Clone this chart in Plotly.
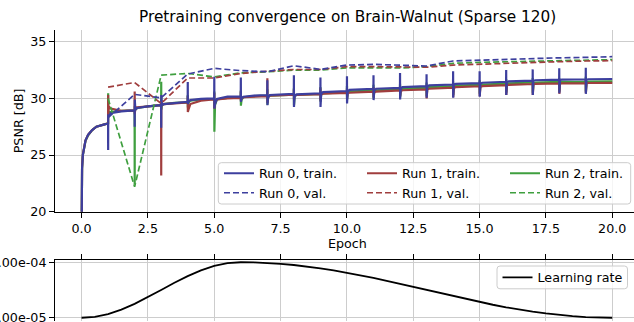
import plotly.graph_objects as go

# ---------------------------------------------------------------- data
# Dense sampling of the first epoch (shared by all runs)
first_epoch = [0.0, 0.005, 0.02, 0.05, 0.09, 0.15, 0.25, 0.4, 0.56, 0.75, 0.99]
run0_first = [17.0, 22.0, 23.8, 25.0, 25.6, 26.3, 26.8, 27.2, 27.5, 27.65, 27.8]
run1_first = [17.0, 22.1, 23.9, 25.05, 25.65, 26.3, 26.8, 27.2, 27.5, 27.65, 27.8]
run2_first = [17.0, 22.0, 23.8, 25.0, 25.6, 26.25, 26.75, 27.2, 27.5, 27.65, 27.8]

# Sample positions inside every later epoch (relative to its start):
# before restart, restart spike (two extremes), settling, mid, end
epoch_offsets = [0.0, 0.003, 0.006, 0.03, 0.1, 0.5, 0.97]
later_epochs = list(range(1, 20))
final_epoch = 20.0

run0_train_rows = [
    [27.8, 25.45, 28.6, 28.4, 28.7, 28.85, 28.95],
    [28.95, 27.5, 29.9, 29.0, 29.15, 29.3, 29.4],
    [29.4, 27.4, 30.3, 29.4, 29.5, 29.6, 29.7],
    [29.7, 31.45, 29.5, 29.7, 29.85, 29.95, 30.0],
    [30.0, 31.9, 29.1, 29.5, 29.95, 30.15, 30.15],
    [30.15, 31.85, 29.7, 30.0, 30.15, 30.25, 30.3],
    [30.3, 31.6, 29.4, 30.1, 30.3, 30.36, 30.4],
    [30.4, 32.05, 29.25, 30.2, 30.35, 30.4, 30.45],
    [30.45, 31.85, 29.25, 30.4, 30.55, 30.6, 30.65],
    [30.65, 31.95, 29.55, 30.6, 30.75, 30.8, 30.85],
    [30.85, 32.05, 29.85, 30.7, 30.85, 30.88, 30.92],
    [30.92, 32.25, 29.9, 30.9, 31.0, 31.03, 31.08],
    [31.08, 32.12, 30.06, 31.05, 31.15, 31.18, 31.22],
    [31.22, 32.4, 30.06, 31.2, 31.28, 31.3, 31.35],
    [31.35, 32.4, 30.15, 31.3, 31.38, 31.41, 31.47],
    [31.47, 32.5, 30.3, 31.45, 31.5, 31.53, 31.57],
    [31.57, 32.56, 30.3, 31.55, 31.6, 31.62, 31.65],
    [31.65, 32.65, 30.45, 31.62, 31.66, 31.68, 31.69],
    [31.69, 32.7, 30.4, 31.66, 31.69, 31.7, 31.71],
]
run0_final = 31.71

run1_train_rows = [
    [27.8, 30.3, 28.5, 29.3, 29.1, 28.9, 28.95],
    [28.95, 30.6, 28.6, 29.2, 29.2, 29.3, 29.4],
    [29.4, 23.2, 29.85, 29.4, 29.5, 29.55, 29.65],
    [29.65, 30.2, 28.8, 29.0, 29.5, 29.8, 29.9],
    [29.9, 30.5, 29.1, 29.6, 29.9, 30.0, 30.05],
    [30.05, 30.6, 29.8, 30.0, 30.1, 30.15, 30.2],
    [30.2, 31.77, 29.6, 30.1, 30.25, 30.3, 30.32],
    [30.32, 30.8, 29.9, 30.25, 30.3, 30.35, 30.38],
    [30.38, 30.9, 29.8, 30.35, 30.42, 30.45, 30.48],
    [30.48, 30.9, 30.0, 30.45, 30.5, 30.55, 30.6],
    [30.6, 31.0, 30.1, 30.55, 30.6, 30.65, 30.7],
    [30.7, 31.1, 30.2, 30.65, 30.72, 30.75, 30.8],
    [30.8, 31.2, 30.0, 30.8, 30.85, 30.88, 30.95],
    [30.95, 31.3, 30.1, 30.9, 31.0, 31.03, 31.07],
    [31.07, 31.4, 30.2, 31.0, 31.08, 31.12, 31.17],
    [31.17, 31.5, 30.3, 31.15, 31.2, 31.24, 31.27],
    [31.27, 31.6, 30.3, 31.25, 31.28, 31.3, 31.32],
    [31.32, 31.6, 30.4, 31.3, 31.33, 31.34, 31.35],
    [31.35, 31.7, 30.45, 31.33, 31.36, 31.36, 31.37],
]
run1_final = 31.37

run2_train_rows = [
    [27.8, 30.45, 28.3, 28.8, 28.8, 28.9, 28.95],
    [28.95, 22.4, 29.3, 29.0, 29.15, 29.3, 29.4],
    [29.4, 31.47, 29.0, 29.4, 29.5, 29.6, 29.65],
    [29.65, 30.3, 29.2, 29.6, 29.8, 29.9, 29.95],
    [29.95, 30.6, 27.05, 29.4, 29.9, 30.05, 30.1],
    [30.1, 30.7, 29.35, 29.9, 30.1, 30.2, 30.25],
    [30.25, 30.8, 29.45, 30.1, 30.25, 30.3, 30.33],
    [30.33, 30.9, 29.4, 30.2, 30.3, 30.35, 30.4],
    [30.4, 31.0, 29.7, 30.35, 30.45, 30.5, 30.55],
    [30.55, 31.1, 29.9, 30.5, 30.6, 30.65, 30.7],
    [30.7, 31.2, 30.0, 30.6, 30.7, 30.75, 30.8],
    [30.8, 31.3, 30.1, 30.75, 30.85, 30.9, 30.95],
    [30.95, 31.4, 30.2, 30.9, 31.0, 31.03, 31.08],
    [31.08, 31.5, 30.3, 31.05, 31.12, 31.15, 31.2],
    [31.2, 31.6, 30.4, 31.15, 31.22, 31.25, 31.3],
    [31.3, 31.7, 30.5, 31.25, 31.32, 31.35, 31.4],
    [31.4, 31.8, 30.5, 31.35, 31.4, 31.43, 31.45],
    [31.45, 31.8, 30.6, 31.42, 31.45, 31.47, 31.48],
    [31.48, 31.9, 30.6, 31.45, 31.48, 31.5, 31.5],
]
run2_final = 31.5

# Validation PSNR at the end of each epoch
val_epochs = [1, 2, 3, 4, 5, 6, 7, 8, 9, 10, 11, 12, 13, 14, 15, 16, 17, 18, 19, 20]
run0_val = [28.3, 30.35, 30.05, 32.15, 32.65, 32.45, 32.35, 32.88, 32.56, 32.94,
            33.0, 32.9, 32.86, 33.3, 33.38, 33.45, 33.52, 33.58, 33.62, 33.68]
run1_val = [31.0, 31.4, 29.55, 31.8, 31.8, 32.2, 32.4, 32.55, 32.55, 32.8,
            32.8, 32.8, 32.75, 32.94, 33.03, 33.09, 33.18, 33.24, 33.3, 33.33]
run2_val = [30.0, 22.2, 32.05, 32.2, 31.9, 32.25, 32.35, 32.5, 32.5, 32.7,
            32.7, 32.68, 32.8, 33.09, 33.18, 33.24, 33.3, 33.35, 33.4, 33.42]

# Learning-rate schedule (warm-up, then cosine decay)
lr_epochs = [0.0, 0.5, 1.0, 1.5, 2.0, 2.5, 3.0, 3.5, 4.0, 4.5, 5.0, 5.5, 6.0, 6.5,
             7.0, 7.5, 8.0, 8.5, 9.0, 9.5, 10.0, 10.5, 11.0, 11.5, 12.0, 12.5,
             13.0, 13.5, 14.0, 14.5, 15.0, 15.5, 16.0, 16.5, 17.0, 17.5, 18.0,
             18.5, 19.0, 19.5, 20.0]
lr_values = [1.0e-05, 1.153e-05, 1.603e-05, 2.318e-05, 3.25e-05, 4.335e-05, 5.5e-05,
             6.665e-05, 7.75e-05, 8.682e-05, 9.397e-05, 9.847e-05, 1.0e-04,
             9.972e-05, 9.887e-05, 9.747e-05, 9.554e-05, 9.31e-05, 9.018e-05,
             8.682e-05, 8.306e-05, 7.894e-05, 7.452e-05, 6.986e-05, 6.501e-05,
             6.004e-05, 5.5e-05, 4.996e-05, 4.499e-05, 4.014e-05, 3.548e-05,
             3.106e-05, 2.694e-05, 2.318e-05, 1.982e-05, 1.69e-05, 1.446e-05,
             1.253e-05, 1.113e-05, 1.028e-05, 1.0e-05]

epoch_tick_vals = [0.0, 2.5, 5.0, 7.5, 10.0, 12.5, 15.0, 17.5, 20.0]
psnr_tick_vals = [20, 25, 30, 35]
lr_tick_vals = [1e-05, 1e-04]
lr_tick_text = ["1.00e-05", "1.00e-04"]

run_names = ["Run 0", "Run 1", "Run 2"]
run_colors = ["#3d3f9e", "#a03e3e", "#3f9f3f"]

# ---------------------------------------------------------------- helpers
W, H = 634, 322
PLOT_L = 55.0
GRID = "#cdcdcd"
FONT = "DejaVu Sans"


def paper_x(px):
    return (px - PLOT_L) / (W - PLOT_L)


def paper_y(py):
    return 1 - py / H


def train_series(first_vals, rows, final_val):
    xs = list(first_epoch)
    ys = list(first_vals)
    for k, row in zip(later_epochs, rows):
        xs += [k + o for o in epoch_offsets]
        ys += row
    xs.append(final_epoch)
    ys.append(final_val)
    return xs, ys


def rounded_box(x0, y0, x1, y1, r=3.0):
    """Rounded rectangle path in paper coordinates from pixel corners."""
    X = paper_x
    Y = paper_y
    return (f"M{X(x0 + r)},{Y(y0)} L{X(x1 - r)},{Y(y0)} Q{X(x1)},{Y(y0)} {X(x1)},{Y(y0 + r)} "
            f"L{X(x1)},{Y(y1 - r)} Q{X(x1)},{Y(y1)} {X(x1 - r)},{Y(y1)} "
            f"L{X(x0 + r)},{Y(y1)} Q{X(x0)},{Y(y1)} {X(x0)},{Y(y1 - r)} "
            f"L{X(x0)},{Y(y0 + r)} Q{X(x0)},{Y(y0)} {X(x0 + r)},{Y(y0)} Z")


# ---------------------------------------------------------------- figure
fig = go.Figure()

train_data = [
    train_series(run0_first, run0_train_rows, run0_final),
    train_series(run1_first, run1_train_rows, run1_final),
    train_series(run2_first, run2_train_rows, run2_final),
]
val_data = [run0_val, run1_val, run2_val]
entry_widths = [98, 98, 80]

# training curves (blue drawn last so it sits on top)
for i in [2, 1, 0]:
    xs, ys = train_data[i]
    fig.add_trace(go.Scatter(
        x=xs, y=ys, mode="lines", name=f"{run_names[i]}, train.",
        line=dict(color=run_colors[i], width=2.2),
        legendgroup=f"run{i}", legendrank=2 * i + 1, legendwidth=entry_widths[i],
        xaxis="x", yaxis="y",
    ))

# validation curves
for i in [2, 1, 0]:
    fig.add_trace(go.Scatter(
        x=val_epochs, y=val_data[i], mode="lines", name=f"{run_names[i]}, val.",
        line=dict(color=run_colors[i], width=1.7, dash="6px,3px"),
        legendgroup=f"run{i}", legendrank=2 * i + 2, legendwidth=entry_widths[i],
        xaxis="x", yaxis="y",
    ))

fig.add_trace(go.Scatter(
    x=lr_epochs, y=lr_values, mode="lines", name="Learning rate",
    line=dict(color="black", width=1.8), legend="legend2",
    xaxis="x2", yaxis="y2",
))

axis_common = dict(
    showgrid=True, gridcolor=GRID, gridwidth=1, zeroline=False,
    showline=True, linecolor="black", linewidth=1, automargin=False,
    ticks="outside", ticklen=5, tickwidth=1, tickcolor="black",
    tickfont=dict(family=FONT, size=12.7, color="black"),
)

fig.update_layout(
    width=W, height=H,
    margin=dict(l=PLOT_L, r=0, t=0, b=0, autoexpand=False),
    paper_bgcolor="white", plot_bgcolor="white",
    font=dict(family=FONT, size=12.7, color="black"),
    showlegend=True,
    xaxis=dict(domain=[0, 1], anchor="y", range=[-1, 20.82],
               tickvals=epoch_tick_vals, tickformat=".1f", **axis_common),
    yaxis=dict(domain=[paper_y(211.7), paper_y(30.4)], anchor="x", range=[20, 36],
               tickvals=psnr_tick_vals, **axis_common),
    xaxis2=dict(domain=[0, 1], anchor="y2", matches="x", side="top",
                tickvals=epoch_tick_vals, showticklabels=False, **axis_common),
    yaxis2=dict(domain=[paper_y(320.5), paper_y(259.5)], anchor="x2",
                range=[5.5e-06, 1.045e-04], tickvals=lr_tick_vals,
                ticktext=lr_tick_text, ticklabeloverflow="allow", **axis_common),
    legend=dict(x=paper_x(219), y=paper_y(158.5), xanchor="left", yanchor="top",
                orientation="h", traceorder="grouped", tracegroupgap=0,
                bgcolor="rgba(0,0,0,0)", borderwidth=0,
                font=dict(family=FONT, size=12.7, color="black")),
    legend2=dict(x=paper_x(497.5), y=paper_y(262.6), xanchor="left", yanchor="top",
                 bgcolor="rgba(0,0,0,0)", borderwidth=0,
                 font=dict(family=FONT, size=12.7, color="black")),
    shapes=[
        dict(type="path", xref="paper", yref="paper", layer="above",
             path=rounded_box(218.3, 162.7, 630.7, 204.0),
             fillcolor="rgba(255,255,255,0.8)", line=dict(color="#cccccc", width=1)),
        dict(type="path", xref="paper", yref="paper", layer="above",
             path=rounded_box(497.0, 266.0, 627.5, 288.8),
             fillcolor="rgba(255,255,255,0.8)", line=dict(color="#cccccc", width=1)),
    ],
    annotations=[
        dict(text="Pretraining convergence on Brain-Walnut (Sparse 120)",
             x=paper_x(347), y=paper_y(17), xref="paper", yref="paper",
             xanchor="center", yanchor="middle", showarrow=False,
             font=dict(family=FONT, size=15.3, color="black")),
        dict(text="Epoch", x=paper_x(347), y=paper_y(243), xref="paper", yref="paper",
             xanchor="center", yanchor="middle", showarrow=False,
             font=dict(family=FONT, size=12.7, color="black")),
        dict(text="PSNR [dB]", x=paper_x(18.3), y=paper_y(121), xref="paper", yref="paper",
             xanchor="center", yanchor="middle", showarrow=False, textangle=-90,
             font=dict(family=FONT, size=12.7, color="black")),
    ],
)

fig.write_html("out.html")
